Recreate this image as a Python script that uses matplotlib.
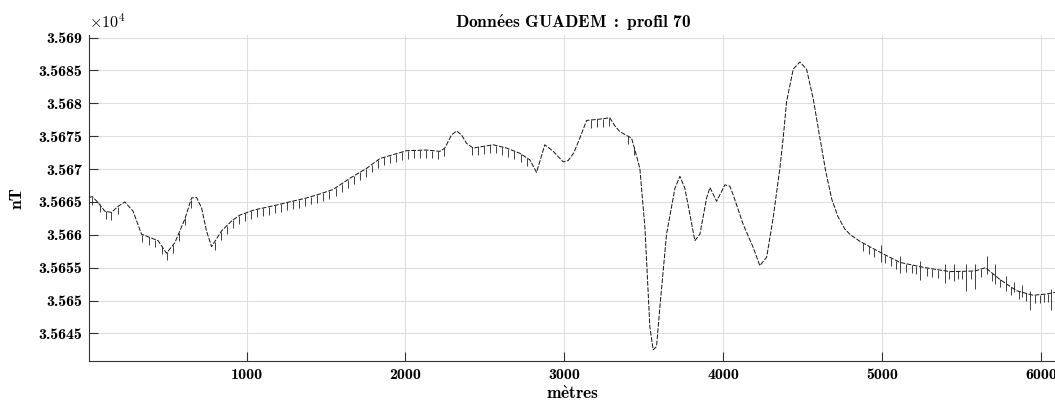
import numpy as np
import matplotlib
matplotlib.use("Agg")
import matplotlib.pyplot as plt
from matplotlib.ticker import FuncFormatter, FixedLocator

# bold Computer Modern for every label, digits included
plt.rcParams['mathtext.fontset'] = 'custom'
plt.rcParams['mathtext.rm'] = 'cmr10'
plt.rcParams['mathtext.bf'] = 'cmb10'
plt.rcParams['mathtext.it'] = 'cmmi10'
plt.rcParams['mathtext.fallback'] = 'cm'
plt.rcParams['axes.formatter.use_mathtext'] = False
plt.rcParams['lines.scale_dashes'] = False

# Profile 70: distance along the line (m) and total field (nT)
dist_m = [9, 30, 66, 108, 150, 190, 234, 286, 339, 402, 444, 496, 549, 612,
          654, 685, 717, 748, 780, 843, 906, 958, 1050, 1167, 1270, 1377,
          1460, 1545, 1650, 1755, 1839, 1923, 2007, 2133, 2216, 2248, 2290,
          2322, 2353, 2385, 2426, 2552, 2636, 2720, 2783, 2825, 2877, 2930,
          2992, 3024, 3060, 3097, 3140, 3223, 3286, 3320, 3349, 3423, 3444,
          3475, 3507, 3538, 3559, 3580, 3601, 3643, 3696, 3727, 3758, 3790,
          3821, 3853, 3895, 3916, 3958, 4010, 4041, 4062, 4125, 4188, 4230,
          4273, 4314, 4356, 4377, 4398, 4440, 4482, 4524, 4566, 4607, 4645,
          4683, 4721, 4764, 4800, 4860, 4990, 5112, 5270, 5427, 5585, 5650,
          5741, 5845, 5950, 6035, 6100]
field_nT = [35665.7, 35665.8, 35664.9, 35663.6, 35663.4, 35664.3, 35665.0,
            35663.6, 35660.1, 35659.5, 35659.1, 35657.2, 35658.8, 35662.4,
            35665.6, 35665.7, 35664.1, 35660.6, 35658.2, 35660.6, 35662.1,
            35663.0, 35663.8, 35664.4, 35665.0, 35665.6, 35666.2, 35666.9,
            35668.6, 35670.1, 35671.6, 35672.2, 35672.8, 35672.9, 35672.7,
            35673.2, 35675.2, 35675.8, 35675.2, 35673.9, 35673.2, 35673.7,
            35673.2, 35672.4, 35671.4, 35669.5, 35673.7, 35672.7, 35671.1,
            35671.3, 35672.5, 35674.7, 35677.4, 35677.6, 35677.8, 35676.5,
            35675.7, 35674.7, 35672.9, 35670.1, 35661.1, 35646.0, 35642.5,
            35643.0, 35649.0, 35660.1, 35667.1, 35668.9, 35667.1, 35663.1,
            35659.1, 35660.1, 35665.6, 35667.2, 35665.1, 35667.6, 35667.4,
            35666.1, 35661.6, 35658.1, 35655.3, 35656.6, 35662.6, 35670.1,
            35674.7, 35680.2, 35685.2, 35686.3, 35685.2, 35680.7, 35674.9,
            35669.6, 35665.4, 35662.8, 35660.9, 35660.0, 35659.0, 35657.3,
            35655.8, 35655.0, 35654.4, 35654.5, 35655.0, 35653.2, 35651.5,
            35650.8, 35651.0, 35651.3]

# start of each acquisition line (small drop in the reading)
hook_m = [30, 75, 115, 150, 190, 345, 385, 425, 465, 500, 535, 575, 615, 650,
          800, 838, 876, 914, 952, 990, 1028, 1066, 1104, 1142, 1180, 1218,
          1256, 1294, 1332, 1370, 1408, 1446, 1484, 1522, 1560, 1598, 1636,
          1674, 1712, 1750, 1788, 1826, 1864, 1902, 1940, 1978, 2016, 2054,
          2092, 2130, 2168, 2206, 2244, 2420, 2458, 2496, 2534, 2572, 2610,
          2648, 2686, 2724, 2762, 3170, 3208, 3246, 3284, 3400, 3438,
          4880, 4915, 4950, 5020, 5055, 5090, 5150, 5185, 5210, 5280, 5315,
          5350, 5420, 5480, 5505, 5560, 5620, 5690, 5740, 5810, 5860, 5905,
          5960, 5990, 6020, 6045, 6085]
hook_depth = 1.2

# isolated spikes on the eastern end of the line
spike_m = [4990, 5110, 5240, 5395, 5450, 5530, 5585, 5660, 5710, 5780, 5830,
           5880, 5930, 6065]
spike_low = [35655.8, 35654.2, 35653.2, 35652.6, 35653.0, 35651.5, 35651.8,
             35654.0, 35652.5, 35651.5, 35651.3, 35650.5, 35648.5, 35648.5]
spike_high = [35658.5, 35656.8, 35656.0, 35655.5, 35655.5, 35655.6, 35655.6,
              35656.8, 35655.5, 35653.8, 35652.8, 35652.3, 35651.5, 35651.8]

fig = plt.figure(figsize=(10.55, 4.05), dpi=100)
ax = fig.add_axes([0.0844, 0.1086, 0.9175, 0.805])

ax.plot(dist_m, field_nT, color='#111111', lw=0.7,
        linestyle=(0, (3.4, 1.1)), zorder=3)

hook_top = np.interp(hook_m, dist_m, field_nT)
ax.vlines(hook_m, hook_top - hook_depth, hook_top, color='#222222',
          lw=0.6, zorder=3)
ax.vlines(spike_m, spike_low, spike_high, color='#222222', lw=0.6, zorder=3)

ax.set_xlim(9, 6100)
ax.set_ylim(35640.8, 35690.4)

ax.xaxis.set_major_locator(FixedLocator([1000, 2000, 3000, 4000, 5000, 6000]))
ax.yaxis.set_major_locator(FixedLocator(np.arange(35645, 35691, 5)))
ax.xaxis.set_major_formatter(FuncFormatter(lambda v, p: '%d' % v))
ax.yaxis.set_major_formatter(
    FuncFormatter(lambda v, p: ('%.4f' % (v / 1e4)).rstrip('0')))

ax.grid(True, color='#dedede', lw=0.8)
ax.set_axisbelow(True)
for side in ('top', 'right'):
    ax.spines[side].set_visible(False)
for side in ('left', 'bottom'):
    ax.spines[side].set_color('#333333')
    ax.spines[side].set_linewidth(0.8)
ax.tick_params(direction='in', length=6.5, width=0.8, color='#333333',
               labelsize=11.5, pad=5)
for lab in ax.get_xticklabels() + ax.get_yticklabels():
    lab.set_fontfamily('cmb10')

ax.set_title(r'$\mathbf{Donn\acute{e}es\ GUADEM\ :\ profil\ 70}$',
             fontsize=12.5, pad=5)
ax.set_xlabel(r'$\mathbf{m\grave{e}tres}$', fontsize=12.5, labelpad=2.5)
ax.set_ylabel('nT', fontfamily='cmb10', fontsize=12.5, labelpad=10)
fig.text(0.0844, 0.925, r'$\times 10^4$', fontsize=11.5, ha='left',
         va='bottom')

fig.savefig('out.png', dpi=100)
